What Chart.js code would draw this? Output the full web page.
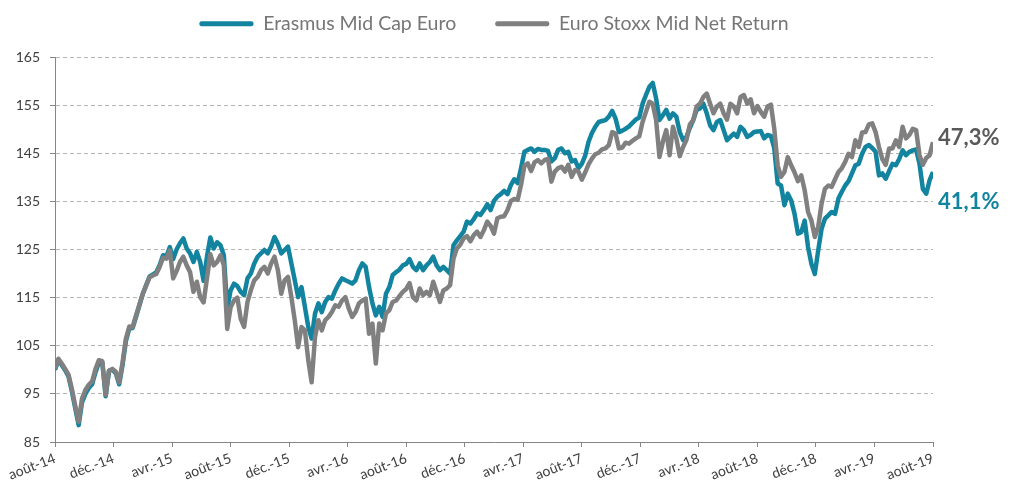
<!DOCTYPE html>
<html><head><meta charset="utf-8">
<script src="https://cdn.jsdelivr.net/npm/chart.js@4/dist/chart.umd.min.js"></script>
<style>html,body{margin:0;padding:0;background:#fff}#wrap{width:1019px;height:488px}</style>
</head><body><div id="wrap"><canvas id="c" width="1019" height="488"></canvas></div>
<script>
const xLabels = ['août-14','déc.-14','avr.-15','août-15','déc.-15','avr.-16','août-16','déc.-16','avr.-17','août-17','déc.-17','avr.-18','août-18','déc.-18','avr.-19','août-19'];
const seriesNames = ['Erasmus Mid Cap Euro','Euro Stoxx Mid Net Return'];
const endLabels = ['47,3%','41,1%'];
const yMin = 85, yMax = 165, yStep = 10;

// weekly values, août-14 -> août-19
const erasmus = [
100.0,102.0,101.0,99.9,98.6,95.5,92.0,88.5,93.2,95.0,96.2,97.0,99.5,101.5,101.5,94.5,99.8,100.0,99.3,97.0,
101.0,106.0,108.6,108.7,111.0,113.4,115.8,117.6,119.4,119.8,120.3,121.8,123.8,123.6,125.5,123.0,125.0,126.3,127.3,125.2,
124.2,122.4,124.5,122.4,118.5,123.5,127.5,125.2,126.5,125.9,123.8,112.7,116.5,
117.9,117.4,116.2,115.5,119.0,120.0,122.1,123.5,124.2,124.9,124.2,125.6,127.6,126.2,124.2,124.9,125.6,122.1,118.6,115.1,
117.2,113.1,108.9,106.5,111.7,113.8,112.0,114.1,115.1,114.8,116.5,117.9,119.0,118.6,118.3,117.9,118.6,120.7,122.1,121.4,
117.2,113.8,111.3,113.1,111.0,115.8,117.2,119.7,120.3,120.8,121.7,
122.0,123.0,121.4,120.7,122.1,120.7,121.7,122.4,123.5,121.7,120.7,121.4,120.7,120.0,125.9,126.9,127.8,128.7,130.8,130.4,
131.3,132.5,132.2,133.2,134.4,133.2,135.1,136.0,136.5,137.2,136.5,138.4,139.6,138.8,141.9,145.3,145.7,146.0,145.3,145.9,
145.7,145.7,145.5,143.3,144.0,145.7,146.0,145.0,145.3,143.3,143.6,141.9,
142.8,144.5,147.4,149.2,150.5,151.5,151.7,151.9,152.6,153.8,152.2,149.4,149.7,150.1,150.6,151.3,152.0,152.4,155.3,157.1,
158.8,159.6,156.4,151.9,152.9,154.0,152.2,153.3,152.6,149.4,147.7,148.4,150.3,151.9,154.0,154.3,155.3,153.3,150.8,149.8,
151.5,151.9,149.8,147.7,148.4,149.1,148.4,150.5,149.8,148.4,148.8,149.4,
149.5,149.6,148.1,148.8,148.6,146.0,138.7,138.3,134.2,136.6,135.2,132.4,128.3,128.6,131.0,125.5,122.0,119.9,124.8,129.3,
131.4,132.1,132.8,132.4,135.6,137.0,138.3,139.2,140.8,142.5,142.8,144.9,146.3,146.7,146.1,145.3,140.4,140.8,139.7,141.3,
142.8,142.5,143.8,145.6,144.6,145.3,145.6,145.8,142.8,137.6,136.6,139.4,141.1
];
const stoxx = [
100.2,102.3,101.3,100.2,99.0,96.0,92.5,89.2,94.0,95.8,96.9,97.6,100.2,102.0,101.8,94.8,99.8,100.2,99.6,97.4,
101.5,106.5,109.0,108.9,111.3,113.6,115.8,117.5,119.2,119.6,119.9,121.4,123.3,123.1,124.8,119.0,120.5,122.4,123.5,121.7,
120.3,116.2,118.3,115.1,114.0,119.0,124.0,121.7,122.4,123.8,121.7,108.5,113.0,
114.4,115.0,110.6,108.9,114.1,116.5,118.6,119.3,120.7,121.4,120.0,122.1,123.5,120.7,115.8,118.6,119.3,115.1,110.3,104.7,
108.9,108.2,102.0,97.4,106.8,110.3,108.2,110.3,111.0,112.0,113.4,113.1,114.4,115.1,112.7,111.0,112.0,113.8,114.4,114.8,
107.5,109.6,101.3,109.6,108.2,111.7,112.4,114.1,114.4,115.3,116.2,
116.8,118.0,115.1,114.4,116.9,115.5,116.2,115.5,118.3,116.2,114.1,116.5,116.9,117.6,123.1,125.2,126.0,127.3,127.8,126.7,
128.0,128.7,127.6,129.0,130.8,129.9,128.3,131.5,131.8,131.9,133.2,135.1,135.5,135.3,138.4,142.4,142.9,141.3,143.1,143.6,
142.9,143.6,143.8,139.1,141.2,141.9,142.2,141.2,142.6,140.1,141.5,141.2,
139.5,141.0,142.7,143.9,144.8,145.1,145.8,146.0,146.7,149.4,149.1,146.0,146.2,147.2,147.0,147.6,148.1,148.5,151.5,153.6,
155.7,155.3,151.9,144.2,147.4,149.8,144.6,150.5,148.1,144.4,146.3,147.8,151.0,151.9,154.7,155.3,156.7,157.4,155.3,153.3,
154.7,155.3,153.3,152.0,155.3,154.7,153.3,156.7,157.1,155.3,156.2,153.3,
154.8,153.6,152.6,154.7,155.1,150.1,142.5,140.1,141.1,144.2,142.5,141.0,139.2,140.4,137.3,132.8,131.0,127.6,129.7,134.5,
137.6,138.3,138.0,139.6,141.1,141.9,143.2,144.9,144.2,147.7,146.3,149.3,149.4,151.0,151.2,149.4,146.3,143.8,142.6,146.0,
146.0,147.7,146.3,150.5,148.1,148.8,150.1,149.8,144.6,142.6,144.0,144.6,147.3
];

const TEAL = '#12849f';
const GRAY = '#808080';
const FONT = 'Lato';

const toPoints = arr => arr.map((v, i) => ({ x: i * (xLabels.length - 1) / (arr.length - 1), y: v }));

const endLabelPlugin = {
  id: 'endLabels',
  afterDatasetsDraw(chart) {
    const { ctx, chartArea } = chart;
    const specs = [
      { text: endLabels[0], color: '#595959', ds: 1, dy: -4 },
      { text: endLabels[1], color: TEAL, ds: 0, dy: 30 }
    ];
    ctx.save();
    ctx.font = 'bold 22px ' + FONT;
    ctx.textAlign = 'left';
    ctx.textBaseline = 'middle';
    specs.forEach(s => {
      const pts = chart.getDatasetMeta(s.ds).data;
      const last = pts[pts.length - 1];
      ctx.fillStyle = s.color;
      ctx.fillText(s.text, chartArea.right + 5, last.y + s.dy);
    });
    ctx.restore();
  }
};

new Chart(document.getElementById('c'), {
  type: 'line',
  data: {
    datasets: [
      { label: seriesNames[0], data: toPoints(erasmus), borderColor: TEAL, backgroundColor: TEAL,
        borderWidth: 4.5, pointRadius: 0, tension: 0, borderJoinStyle: 'round', order: 1, xAxisID: 'x', yAxisID: 'y' },
      { label: seriesNames[1], data: toPoints(stoxx), borderColor: GRAY, backgroundColor: GRAY,
        borderWidth: 4.5, pointRadius: 0, tension: 0, borderJoinStyle: 'round', order: 0, xAxisID: 'x', yAxisID: 'y' }
    ]
  },
  options: {
    responsive: false,
    animation: false,
    devicePixelRatio: 1,
    layout: { padding: { top: -25, right: 86, left: 0, bottom: 0 } },
    plugins: {
      legend: {
        position: 'top',
        fullSize: false,
        labels: {
          boxWidth: 54, boxHeight: 5, padding: 39,
          color: '#767676',
          font: { family: FONT, size: 19.5 },
          useBorderRadius: true, borderRadius: 2,
          sort: (a, b) => a.datasetIndex - b.datasetIndex,
          generateLabels: (chart) => Chart.defaults.plugins.legend.labels.generateLabels(chart).map(l => Object.assign(l, { lineWidth: 0 }))
        }
      },
      tooltip: { enabled: false }
    },
    scales: {
      x: {
        type: 'linear', min: 0, max: xLabels.length - 1,
        ticks: {
          stepSize: 1, autoSkip: false, maxRotation: 21, minRotation: 21,
          color: '#404040', font: { family: FONT, size: 14 }, padding: 3,
          callback: v => xLabels[v]
        },
        grid: { drawOnChartArea: false, drawTicks: true, tickLength: 5, color: '#868686', tickColor: '#868686' },
        border: { color: '#868686', width: 1 },
        afterFit: s => { s.height = 46; }
      },
      xTop: {
        type: 'linear', position: 'top',
        ticks: { display: false }, grid: { display: false }, border: { display: false },
        afterFit: s => { s.height = 13.5; }
      },
      y: {
        min: yMin, max: yMax,
        ticks: { stepSize: yStep, color: '#404040', font: { family: FONT, size: 14 }, padding: 10 },
        grid: { color: '#b5b5b5', tickLength: 5, tickColor: '#868686', tickBorderDash: [] },
        border: { color: '#868686', width: 1, dash: [4, 3] },
        afterFit: s => { s.width = 55; }
      }
    }
  },
  plugins: [endLabelPlugin]
});
</script>
</body></html>
